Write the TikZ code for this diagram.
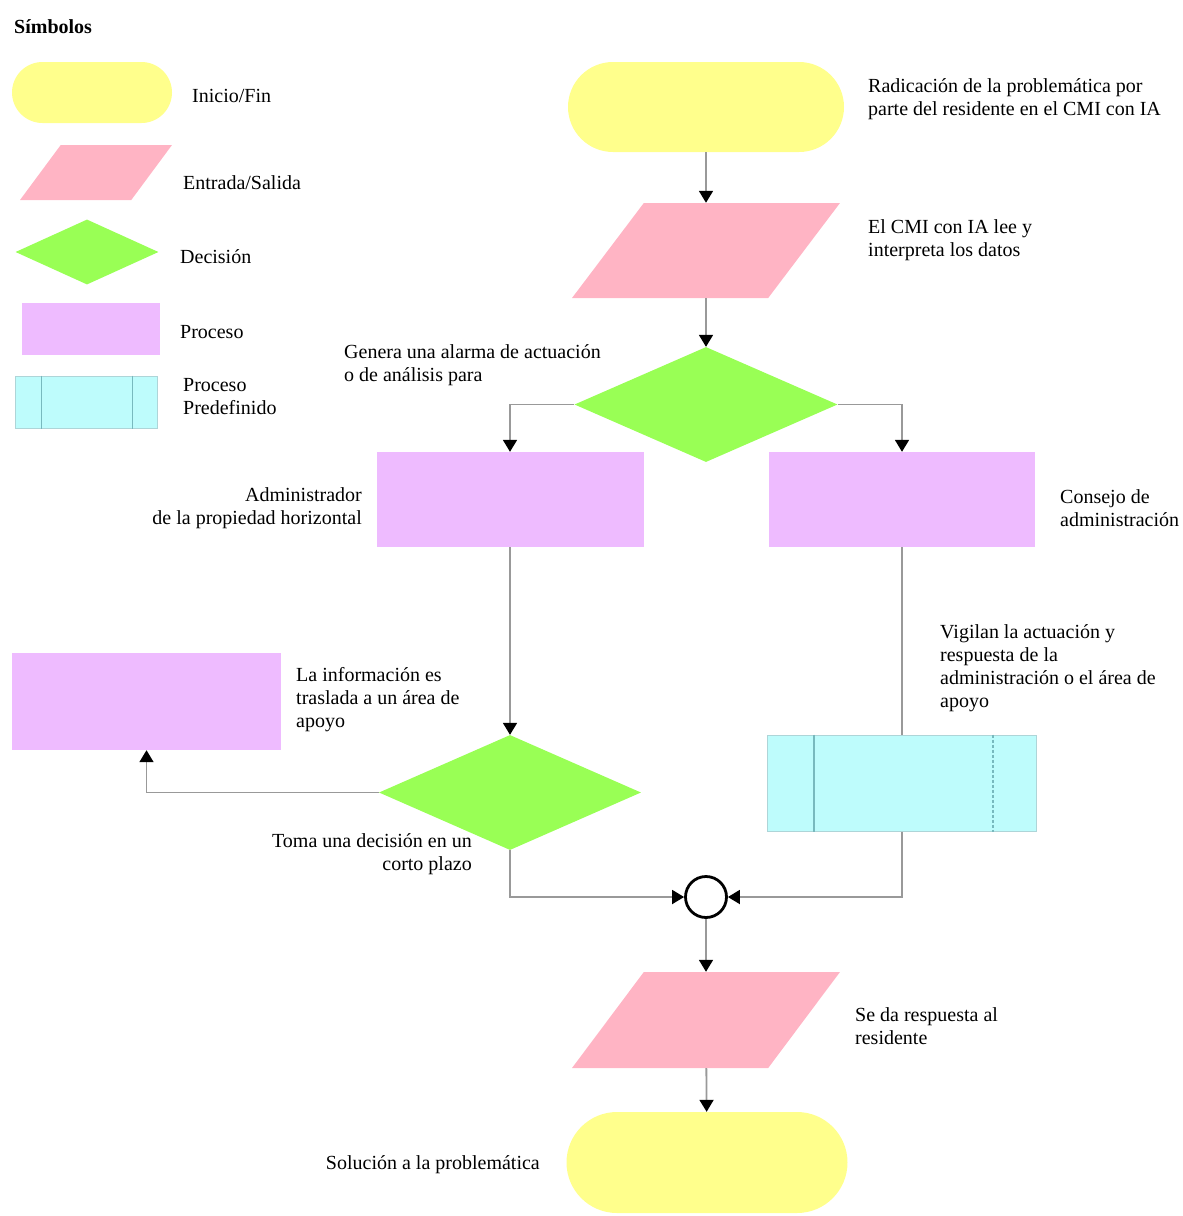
\documentclass[tikz,border=0pt]{standalone}
\usepackage{fontspec}
\setmainfont{Liberation Serif}
\usetikzlibrary{shapes,arrows.meta,positioning}
\definecolor{col_term}{RGB}{255,255,140}
\definecolor{col_io}{RGB}{255,180,196}
\definecolor{col_dec}{RGB}{153,255,85}
\definecolor{col_proc}{RGB}{238,187,255}
\definecolor{col_predef}{RGB}{190,252,252}
\definecolor{col_predef_line}{RGB}{120,185,190}

\begin{document}
\begin{tikzpicture}[x=1pt, y=-1pt,
    block_term/.style ={rounded rectangle, draw=none, fill=col_term, inner sep=0pt,
      minimum width=276pt, minimum height=90pt},
    block_io/.style ={trapezium, trapezium left angle=60, trapezium right angle=120,
      trapezium stretches=true, draw=none, fill=col_io, inner sep=2pt,
      minimum width=268pt, minimum height=95pt},
    block_dec/.style ={diamond, draw=none, fill=col_dec, inner sep=0pt,
      minimum width=263pt, minimum height=115pt},
    block_proc/.style ={rectangle, draw=none, fill=col_proc, inner sep=0pt,
      minimum width=267pt, minimum height=95pt},
    block_predef/.style ={rectangle, draw=col_predef_line!60, line width=1pt, fill=col_predef, inner sep=0pt,
      minimum width=269pt, minimum height=96pt},
    block_conn/.style ={circle, draw=black, line width=2.8pt, fill=white, inner sep=0pt,
      minimum size=41pt},
    block_text/.style ={font=\fontsize{20}{23}\selectfont, inner sep=0pt, align=left},
    line/.style ={draw=black!40, line width=1.8pt, -{Triangle[length=12pt,width=14pt,color=black]}},
    link/.style ={draw=black!40, line width=1.8pt}]
    \useasboundingbox (0,0) rectangle (1183,1216);
    % legend
    \node [block_term, minimum width=160pt, minimum height=61pt] (leg_term) at (92,92.5) {};
    \node [block_io, minimum width=152pt, minimum height=55pt] (leg_io) at (96,172.5) {};
    \node [block_dec, minimum width=143pt, minimum height=65pt] (leg_dec) at (87,252) {};
    \node [block_proc, minimum width=138pt, minimum height=52pt] (leg_proc) at (91,329) {};
    \node [block_predef, minimum width=142pt, minimum height=52pt] (leg_predef) at (86,402) {};
    \draw [col_predef_line, line width=1.5pt] ([xshift=27pt]leg_predef.north west) -- ([xshift=27pt]leg_predef.south west);
    \draw [col_predef_line, line width=1.5pt] ([xshift=-25pt]leg_predef.north east) -- ([xshift=-25pt]leg_predef.south east);
    \node [block_text, anchor=west, font=\fontsize{20}{23}\selectfont\bfseries] (txt_legend) at ([xshift=-78pt,yshift=65.5pt]leg_term.center) {Símbolos};
    \node [block_text, anchor=west] (txt_leg_term) at ([xshift=100pt,yshift=-3.5pt]leg_term.center) {Inicio/Fin};
    \node [block_text, anchor=west] (txt_leg_io) at ([xshift=87pt,yshift=-10.5pt]leg_io.center) {Entrada/Salida};
    \node [block_text, anchor=west] (txt_leg_dec) at ([xshift=93pt,yshift=-5pt]leg_dec.center) {Decisión};
    \node [block_text, anchor=west] (txt_leg_proc) at ([xshift=89pt,yshift=-3pt]leg_proc.center) {Proceso};
    \node [block_text, anchor=west] (txt_leg_predef) at ([xshift=97pt,yshift=5.5pt]leg_predef.center) {Proceso\\ Predefinido};
    % main column
    \node [block_term] (start) at (706,107) {};
    \node [block_io] (io1) at (706,250.5) {};
    \node [block_dec] (dec1) at (706,404.5) {};
    \node [block_proc] (admin) at (510,499.5) {};
    \node [block_proc, minimum width=266pt] (consejo) at (902,499.5) {};
    \node [block_dec, minimum width=262pt] (dec2) at (510,792.5) {};
    \node [block_proc, minimum width=269pt, minimum height=97pt] (apoyo) at (146.5,701.5) {};
    \node [block_predef] (predef) at (902,783) {};
    \draw [col_predef_line, line width=1.5pt] ([xshift=47pt]predef.north west) -- ([xshift=47pt]predef.south west);
    \draw [col_predef_line, line width=1.5pt, densely dashed] ([xshift=-44pt]predef.north east) -- ([xshift=-44pt]predef.south east);
    \node [block_conn] (conn) at (706,897) {};
    \node [block_io, minimum height=96pt] (io2) at (706,1020) {};
    \node [block_term, minimum width=281pt, minimum height=101pt] (end) at (707,1162.5) {};
    % texts
    \node [block_text, anchor=west] (txt_start) at ([xshift=162pt,yshift=7.5pt]start.center) {Radicación de la problemática por\\ parte del residente en el CMI con IA};
    \node [block_text, anchor=west] (txt_io1) at ([xshift=162pt,yshift=10pt]io1.center) {El CMI con IA lee y\\ interpreta los datos};
    \node [block_text, anchor=west] (txt_dec1) at ([xshift=-362pt,yshift=39pt]dec1.center) {Genera una alarma de actuación\\ o de análisis para};
    \node [block_text, anchor=east, align=right] (txt_admin) at ([xshift=-148pt,yshift=-8.5pt]admin.center) {Administrador\\ de la propiedad horizontal};
    \node [block_text, anchor=west] (txt_consejo) at ([xshift=158pt,yshift=-9pt]consejo.center) {Consejo de\\ administración};
    \node [block_text, anchor=west] (txt_apoyo) at ([xshift=149.5pt,yshift=1.5pt]apoyo.center) {La información es\\ traslada a un área de\\ apoyo};
    \node [block_text, anchor=west] (txt_predef) at ([xshift=38pt,yshift=115pt]predef.center) {Vigilan la actuación y\\ respuesta de la\\ administración o el área de\\ apoyo};
    \node [block_text, anchor=east, align=right] (txt_dec2) at ([xshift=-38pt,yshift=-62pt]dec2.center) {Toma una decisión en un\\ corto plazo};
    \node [block_text, anchor=west] (txt_io2) at ([xshift=149pt,yshift=-6pt]io2.center) {Se da respuesta al\\ residente};
    \node [block_text, anchor=east] (txt_end) at ([xshift=-167pt,yshift=-2.5pt]end.center) {Solución a la problemática};
    % connecting nodes with paths
    \path [line] (start) -- (io1);
    \path [line] (io1) -- (dec1);
    \path [line] (dec1.west) -| (admin.north);
    \path [line] (dec1.east) -| (consejo.north);
    \path [line] (admin) -- (dec2);
    \path [line] (dec2.west) -| (apoyo.south);
    \path [line] (dec2.south) |- (conn.west);
    \path [link] (consejo) -- (predef);
    \path [line] (predef.south) |- (conn.east);
    \path [line] (conn) -- (io2);
    \path [line] (io2) -- (end);
\end{tikzpicture}
\end{document}
